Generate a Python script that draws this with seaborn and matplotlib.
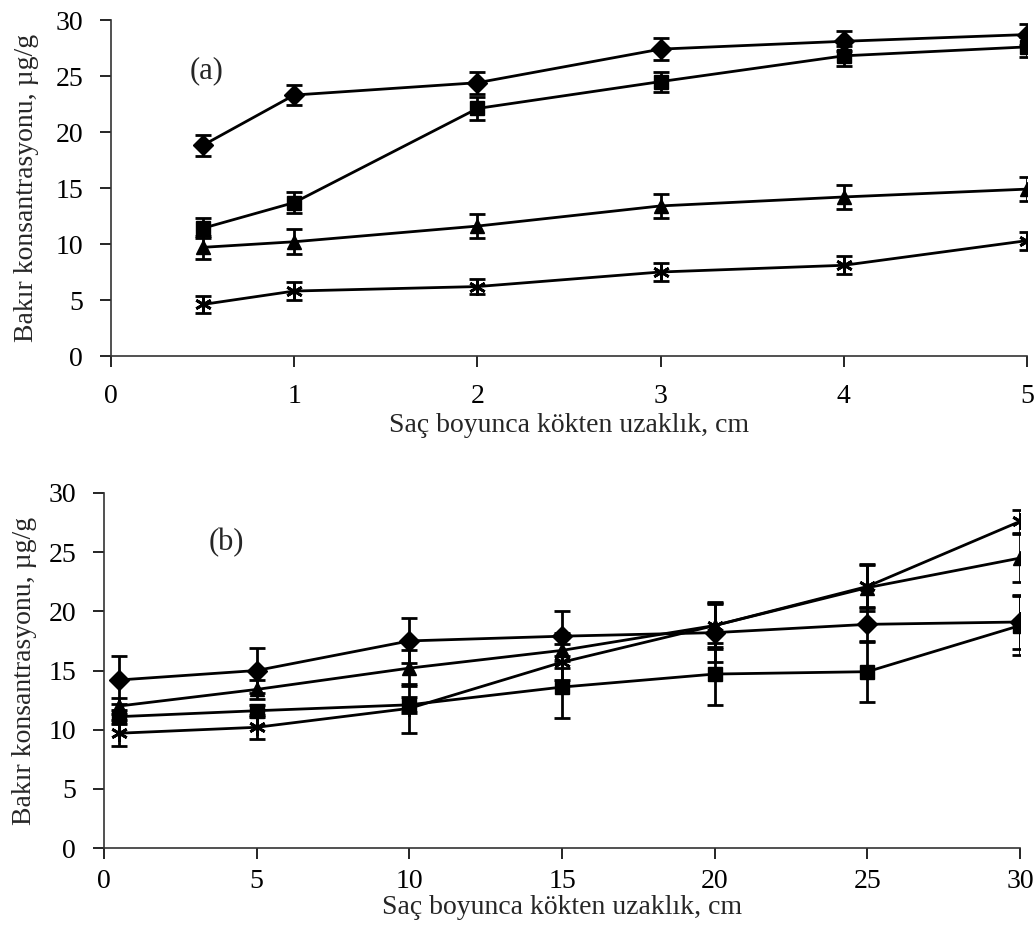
import matplotlib
matplotlib.use("Agg")
import matplotlib.pyplot as plt
import seaborn as sns
import pandas as pd
import numpy as np

# ---- data (a) ----
xa = [0.5, 1, 2, 3, 4, 5]
a_diamond = [18.8, 23.3, 24.4, 27.4, 28.1, 28.7]
a_square = [11.4, 13.7, 22.1, 24.5, 26.8, 27.6]
a_triangle = [9.7, 10.2, 11.6, 13.4, 14.2, 14.9]
a_star = [4.6, 5.8, 6.2, 7.5, 8.1, 10.3]
a_diamond_err = [0.9, 0.9, 1.0, 1.0, 0.9, 0.9]
a_square_err = [0.9, 0.9, 1.0, 0.9, 0.9, 0.9]
a_triangle_err = [1.0, 1.1, 1.1, 1.1, 1.1, 1.1]
a_star_err = [0.8, 0.8, 0.7, 0.8, 0.8, 0.8]

# ---- data (b) ----
xb = [0.5, 5, 10, 15, 20, 25, 30]
b_diamond = [14.2, 15.0, 17.5, 17.9, 18.2, 18.9, 19.1]
b_square = [11.1, 11.6, 12.1, 13.6, 14.7, 14.9, 18.8]
b_triangle = [12.0, 13.4, 15.2, 16.7, 18.8, 22.0, 24.5]
b_star = [9.7, 10.2, 11.8, 15.7, 18.8, 22.1, 27.6]
b_diamond_err = [2.0, 1.9, 1.9, 2.1, 2.5, 1.5, 2.3]
b_square_err = [0.6, 0.5, 0.7, 2.6, 2.6, 2.6, 2.5]
b_triangle_err = [0.7, 0.8, 1.5, 1.5, 2.0, 2.0, 2.0]
b_star_err = [1.1, 1.0, 2.1, 1.5, 1.8, 1.8, 1.0]

series_names = ["diamond", "square", "triangle", "star"]
markers = {"diamond": "D", "square": "s", "triangle": "^", "star": (6, 2, 0)}
msizes = {"diamond": 10, "square": 10, "triangle": 10, "star": 12}

sns.set_style("white")
plt.rcParams['font.family'] = ['Liberation Serif', 'DejaVu Serif']

fig = plt.figure(figsize=(10.36, 9.26), dpi=100)
W, H = 1036, 926
ax1 = fig.add_axes([111 / W, 1 - 356 / H, (1027 - 111) / W, (356 - 20) / H])
ax2 = fig.add_axes([104 / W, 1 - 848 / H, (1020 - 104) / W, (848 - 493) / H])


def draw(ax, x, vals, errs, xticks, xlim, xpad, lpad, ylpad):
    rows = []
    for name, v in zip(series_names, vals):
        for xi, yi in zip(x, v):
            rows.append({"x": xi, "y": yi, "s": name})
    df = pd.DataFrame(rows)
    for name, v, e in zip(series_names, vals, errs):
        ax.errorbar(x, v, yerr=e, fmt="none", ecolor="black", elinewidth=2,
                    capsize=6, capthick=2, zorder=2)
    sns.lineplot(data=df, x="x", y="y", units="s", estimator=None, ax=ax,
                 color="black", linewidth=2, legend=False, zorder=3)
    for name, v in zip(series_names, vals):
        ms = msizes[name]
        if name == "star":
            ax.plot(x, v, linestyle="none", marker=markers[name], markersize=ms,
                    markeredgewidth=2, color="black", zorder=4)
        else:
            ax.plot(x, v, linestyle="none", marker=markers[name], markersize=ms,
                    color="black", zorder=4)
    ax.set_xlim(*xlim)
    ax.set_ylim(0, 30)
    ax.set_xticks(xticks)
    ax.set_yticks([0, 5, 10, 15, 20, 25, 30])
    ax.tick_params(axis="both", direction="out", length=8, width=1.2, colors="black",
                   labelsize=20, left=True, bottom=True)
    ax.tick_params(axis="x", pad=xpad)
    ax.tick_params(axis="y", pad=12)
    for s in ["top", "right"]:
        ax.spines[s].set_visible(False)
    for s in ["left", "bottom"]:
        ax.spines[s].set_color("#333333")
        ax.spines[s].set_linewidth(1.2)
    ax.set_xlabel("Saç boyunca kökten uzaklık, cm", fontsize=20, labelpad=lpad)
    ax.set_ylabel("Bakır konsantrasyonu, µg/g", fontsize=20, labelpad=ylpad)
    ax.patch.set_alpha(0)


draw(ax1, xa, [a_diamond, a_square, a_triangle, a_star],
     [a_diamond_err, a_square_err, a_triangle_err, a_star_err],
     [0, 1, 2, 3, 4, 5], (0, 5), 12, 3, 12)
draw(ax2, xb, [b_diamond, b_square, b_triangle, b_star],
     [b_diamond_err, b_square_err, b_triangle_err, b_star_err],
     [0, 5, 10, 15, 20, 25, 30], (0, 30), 7, 1, 8)

ax1.text(0.52, 25.5, "(a)", fontsize=22, ha="center", va="center")
ax2.text(4.0, 25.8, "(b)", fontsize=22, ha="center", va="center")

fig.savefig("out.png", dpi=100)
